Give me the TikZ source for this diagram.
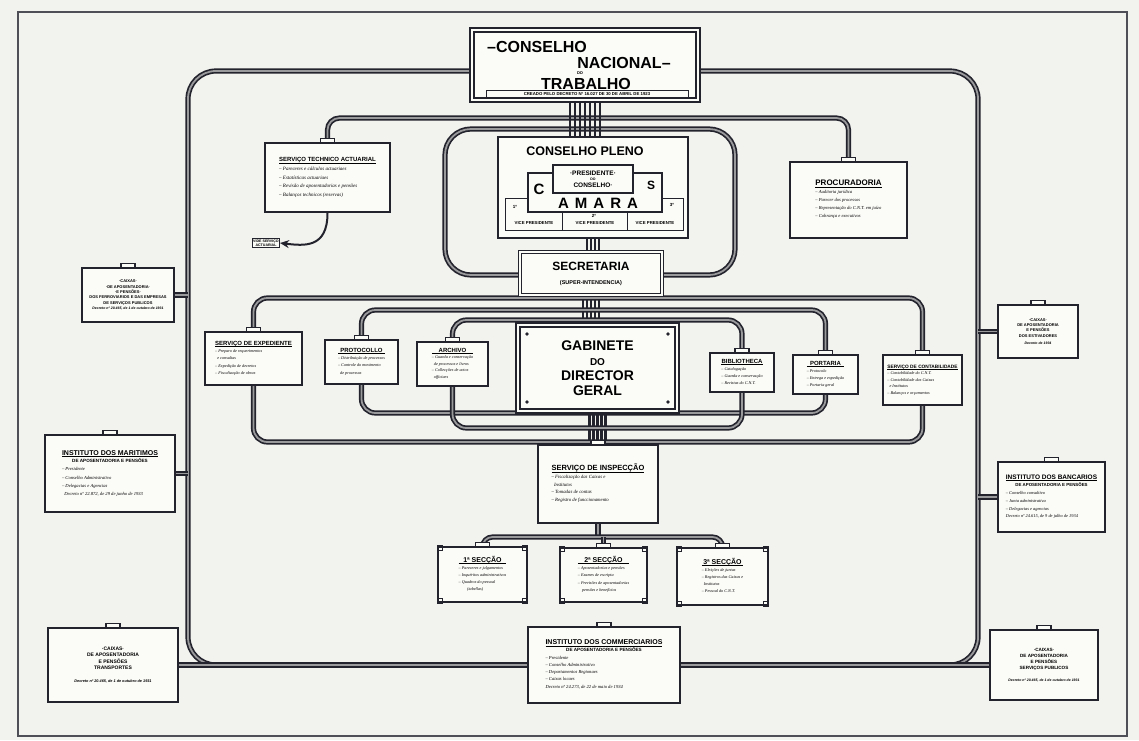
\documentclass[tikz,border=0pt]{standalone}
\usepackage{fontspec}
\setmainfont{Liberation Serif}
\setsansfont{Liberation Sans}
\usetikzlibrary{arrows.meta,calc}
\definecolor{ink}{HTML}{23232D}
\definecolor{paper}{HTML}{FBFBF8}
\definecolor{bgc}{HTML}{F2F2EF}
\pgfdeclarelayer{bgl}
\pgfdeclarelayer{back}
\pgfsetlayers{bgl,back,main}
\newcommand\Ti[1]{{\fontsize{6}{7}\selectfont\sffamily\bfseries\upshape #1}}
\newcommand\card[3][1.3]{{\renewcommand\arraystretch{#1}\begin{tabular}{@{}l@{}}\multicolumn{1}{@{}c@{}}{\Ti{#2}}\\[-1.5pt]\hline\noalign{\vskip 0.8pt}#3\end{tabular}}}
\newcommand\bx[7]{\node[#6,minimum width={#4-#2},minimum height={#5-#3}] (#1) at ({(#2+#4)/2},{(#3+#5)/2}) {#7};}
\newcommand\tabon[1]{\draw[tabst] ([xshift=-7pt]#1.north) rectangle ([xshift=7pt,yshift=4pt]#1.north);}
\tikzset{
  box/.style={draw=ink,line width=1.9pt,fill=paper,inner sep=1pt,align=center,font=\fontsize{4.2}{5.6}\selectfont\itshape},
  side/.style={draw=ink,line width=1.9pt,fill=paper,inner sep=1pt,align=center,font=\fontsize{4}{5.4}\selectfont\sffamily\bfseries},
  dframe/.style={draw=ink,line width=1.5pt,double=paper,double distance=1.6pt,fill=paper,align=center},
  bus/.style={draw=ink,line width=1.7pt,double=ink!45!paper,double distance=1.8pt},
  tabst/.style={draw=ink,line width=1.1pt,fill=paper},
  bundle/.style={draw=ink,line width=2.4pt},
  big/.style={font=\fontsize{15}{15}\selectfont\sffamily\bfseries,inner sep=0pt},
}
\begin{document}
\begin{tikzpicture}[x=1pt,y=-1pt]
\begin{pgfonlayer}{bgl}
\path[fill=bgc] (0,0) rectangle (1139,740);
\draw[ink!80,line width=1.4pt] (18,12) rectangle (1127,736);
\end{pgfonlayer}

% ---------- boxes ----------
\bx{cnt}{472}{30}{698}{100}{dframe,line width=1.8pt}{}
\node[big,font=\fontsize{16}{16}\selectfont\sffamily\bfseries] at (537,47) {–CONSELHO};
\node[big,font=\fontsize{16}{16}\selectfont\sffamily\bfseries] at (624,63) {NACIONAL–};
\node[font=\fontsize{4}{4}\selectfont\sffamily\bfseries,inner sep=0pt] at (580,73) {DO};
\node[big,font=\fontsize{16}{16}\selectfont\sffamily\bfseries] at (586,84) {TRABALHO};
\draw[ink,line width=0.8pt] (486,90) rectangle (688,98);
\node[font=\fontsize{4.3}{4.3}\selectfont\sffamily\bfseries,inner sep=0pt] at (587,94) {CREADO PELO DECRETO Nº 16.027 DE 30 DE ABRIL DE 1923};

\bx{pleno}{498}{137}{688}{238}{box,line width=2.4pt}{}
\node[font=\fontsize{12.5}{13}\selectfont\sffamily\bfseries,inner sep=0pt] at (585,151) {CONSELHO PLENO};
\draw[ink,line width=0.9pt] (505,198) rectangle (683,230);
\draw[ink,line width=0.9pt] (562,198) -- (562,230) (627,198) -- (627,230);
\draw[ink,line width=1.1pt,fill=paper] (528,173) rectangle (662,212);
\node[big] at (539,189) {C};
\node[big,font=\fontsize{12}{12}\selectfont\sffamily\bfseries] at (651,185) {S};
\node[big] at (598,203) {A\hspace{6pt}M\hspace{6pt}A\hspace{6pt}R\hspace{6pt}A};
\draw[ink,line width=1.1pt,fill=paper] (553,165) rectangle (633,193);
\node[align=center,font=\fontsize{6.5}{6.5}\selectfont\sffamily\bfseries,inner sep=0pt] at (593,179) {·PRESIDENTE·\\[-1pt]{\fontsize{3.5}{3.5}\selectfont DO}\\[0pt]CONSELHO·};
\foreach \xx/\yy/\t in {515/207/1º,594/216/2º,672/205/3º}
  \node[font=\fontsize{4.5}{4.5}\selectfont\sffamily\bfseries,inner sep=0pt] at (\xx,\yy) {\t};
\foreach \xx in {534,595,655}
  \node[font=\fontsize{4.3}{4.3}\selectfont\sffamily\bfseries,inner sep=0pt] at (\xx,223) {VICE PRESIDENTE};

\bx{sta}{265}{143}{390}{212}{box,font=\fontsize{5}{6}\selectfont\itshape}{\card[1.45]{SERVIÇO TECHNICO ACTUARIAL}{– Pareceres e cálculos actuariaes\\ – Estatísticas actuariaes\\ – Revisão de aposentadorias e pensões\\ – Balanços technicos (reservas)}}
\tabon{sta}
\node[draw=ink,line width=0.6pt,fill=paper,align=center,inner sep=1pt,font=\fontsize{3.6}{4}\selectfont\sffamily\bfseries] (vide) at (266,243) {VIDE SERVIÇO\\ACTUARIAL};

\bx{proc}{790}{162}{907}{238}{box,font=\fontsize{4.6}{6}\selectfont\itshape}{\card[1.35]{{\fontsize{8}{9}\selectfont PROCURADORIA}}{– Auditoria jurídica\\ – Parecer dos processos\\ – Representação do C.N.T. em juízo\\ – Cobrança e executivos}}
\tabon{proc}

\bx{sec}{520}{252}{662}{295}{dframe}{{\fontsize{12}{12}\selectfont\sffamily\bfseries SECRETARIA}\\[2pt]{\fontsize{5.5}{6}\selectfont\sffamily\bfseries (SUPER-INTENDENCIA)}}

\bx{gab}{518}{325}{677}{411}{dframe,line width=2.2pt,double distance=1.4pt,font=\fontsize{14}{15}\selectfont\sffamily\bfseries}{GABINETE\\{\fontsize{10}{11}\selectfont DO}\\DIRECTOR\\GERAL}
\foreach \xx/\yy in {527/334,668/334,527/402,668/402} \fill[ink] (\xx,\yy) circle (1.8);

\bx{exp}{205}{332}{302}{385}{box}{\card{SERVIÇO DE EXPEDIENTE}{– Preparo de requerimentos\\ \ \ e consultas\\ – Expedição de decretos\\ – Fiscalização de obras}}
\tabon{exp}
\bx{prot}{325}{340}{398}{384}{box}{\card{PROTOCOLLO}{– Distribuição de processos\\ – Controle do movimento\\ \ \ de processos}}
\tabon{prot}
\bx{arch}{417}{342}{488}{386}{box}{\card[1.15]{ARCHIVO}{– Guarda e conservação\\ \ \ de processos e livros\\ – Collecções de actos\\ \ \ officiaes}}
\tabon{arch}
\bx{bib}{710}{353}{774}{392}{box}{\card{BIBLIOTHECA}{– Catalogação\\ – Guarda e conservação\\ – Revistas do C.N.T.}}
\tabon{bib}
\bx{port}{793}{355}{858}{394}{box}{\card{PORTARIA}{– Protocolo\\ – Entrega e expedição\\ – Portaria geral}}
\tabon{port}
\bx{cont}{883}{355}{962}{405}{box}{\card[1.15]{{\fontsize{4.8}{5}\selectfont SERVIÇO DE CONTABILIDADE}}{– Contabilidade do C.N.T.\\ – Contabilidade das Caixas\\ \ \ e Institutos\\ – Balanços e orçamentos}}
\tabon{cont}

\bx{insp}{538}{445}{658}{523}{box,font=\fontsize{4.8}{6}\selectfont\itshape}{\card[1.3]{{\fontsize{7.5}{8}\selectfont SERVIÇO DE INSPECÇÃO}}{– Fiscalização das Caixas e\\ \ \ Institutos\\ – Tomadas de contas\\ – Registro de funccionamento}}
\tabon{insp}

\bx{s1}{438}{547}{527}{602}{box}{\card[1.3]{{\fontsize{7}{8}\selectfont 1ª SECÇÃO}}{– Pareceres e julgamentos\\ – Inquéritos administrativos\\ – Quadros do pessoal\\ \ \ \ \ \ \ \ \ (tabellas)}}
\bx{s2}{560}{548}{647}{602}{box}{\card[1.3]{{\fontsize{7}{8}\selectfont 2ª SECÇÃO}}{– Aposentadorias e pensões\\ – Exames de escripta\\ – Previsões de aposentadorias\\ \ \ \ \ pensões e benefícios}}
\bx{s3}{677}{548}{768}{605}{box}{\card[1.3]{{\fontsize{7}{8}\selectfont 3ª SECÇÃO}}{– Eleições de juntas\\ – Registros das Caixas e\\ \ \ Institutos\\ – Pessoal do C.N.T.}}
\foreach \n in {s1,s2,s3}{\tabon{\n}
  \foreach \a in {north west,north east,south west,south east}
    \draw[ink,line width=0.7pt] ($(\n.\a)!0.06!(\n.center)$) ++(-2.5,-2.5) rectangle ++(5,5);}

% side boxes
\bx{L1}{82}{268}{174}{322}{side}{·CAIXAS·\\ ·DE APOSENTADORIA·\\ ·E PENSÕES·\\ DOS FERROVIARIOS E DAS EMPRESAS\\ DE SERVIÇOS PUBLICOS\\ {\fontsize{3.5}{4}\selectfont\itshape Decreto nº 20.465, de 1 de outubro de 1931}}
\tabon{L1}
\bx{L2}{45}{435}{175}{512}{box,font=\fontsize{4.6}{6}\selectfont\itshape}{\card[1.35]{{\fontsize{7}{8}\selectfont INSTITUTO DOS MARITIMOS}}{\multicolumn{1}{@{}c@{}}{\sffamily\bfseries\upshape DE APOSENTADORIA E PENSÕES}\\ – Presidente\\ – Conselho Administrativo\\ – Delegacias e Agencias\\ \ \ Decreto nº 22.872, de 29 de junho de 1933}}
\tabon{L2}
\bx{L3}{48}{628}{178}{702}{side,font=\fontsize{5}{6.5}\selectfont\sffamily\bfseries}{·CAIXAS·\\ DE APOSENTADORIA\\ E PENSÕES\\ TRANSPORTES\\[6pt] {\fontsize{3.8}{4}\selectfont\itshape Decreto nº 20.465, de 1 de outubro de 1931}}
\tabon{L3}
\bx{R1}{998}{305}{1078}{358}{side}{·CAIXAS·\\ DE APOSENTADORIA\\ E PENSÕES\\ DOS ESTIVADORES\\[2pt] {\fontsize{3.5}{4}\selectfont\itshape Decreto de 1934}}
\tabon{R1}
\bx{R2}{998}{462}{1105}{532}{box,font=\fontsize{4.4}{6}\selectfont\itshape}{\card[1.3]{{\fontsize{6.5}{7}\selectfont INSTITUTO DOS BANCARIOS}}{\multicolumn{1}{@{}c@{}}{\sffamily\bfseries\upshape DE APOSENTADORIA E PENSÕES}\\ – Conselho consultivo\\ – Junta administrativa\\ – Delegacias e agencias\\ Decreto nº 24.615, de 9 de julho de 1934}}
\tabon{R2}
\bx{R3}{990}{630}{1098}{700}{side,font=\fontsize{4.6}{6}\selectfont\sffamily\bfseries}{·CAIXAS·\\ DE APOSENTADORIA\\ E PENSÕES\\ SERVIÇOS PUBLICOS\\[6pt] {\fontsize{3.5}{4}\selectfont\itshape Decreto nº 20.465, de 1 de outubro de 1931}}
\tabon{R3}
\bx{com}{528}{627}{680}{703}{box,font=\fontsize{4.6}{5.8}\selectfont\itshape}{\card[1.25]{{\fontsize{7}{8}\selectfont INSTITUTO DOS COMMERCIARIOS}}{\multicolumn{1}{@{}c@{}}{\sffamily\bfseries\upshape DE APOSENTADORIA E PENSÕES}\\ – Presidente\\ – Conselho Administrativo\\ – Departamentos Regionaes\\ – Caixas locaes\\ Decreto nº 24.273, de 22 de maio de 1934}}
\tabon{com}

% ---------- connectors ----------
\begin{pgfonlayer}{back}
\draw[bus,rounded corners=28] ([yshift=-6pt]cnt.west) -- (188,71) -- (188,665) -- (978,665) -- (978,71) -- ([yshift=-6pt]cnt.east);
\draw[bus] (L3.east) -- (R3.west);
\draw[bus,rounded corners=8] (L1.east) -- (188,295);
\draw[bus,rounded corners=8] (L2.east) -- (188,473.5);
\draw[bus,rounded corners=8] (R1.west) -- (978,331.5);
\draw[bus,rounded corners=8] (R2.west) -- (978,497);
\draw[bus,rounded corners=12] (sta.north) -- (sta.north |- 0,118) -- (proc.north |- 0,118) -- (proc.north);
\draw[bus,rounded corners=26] (590,129) -- (445,129) -- (445,275) -- (735,275) -- (735,129) -- cycle;
\foreach \d in {-15,-10,...,15} \draw[bundle] ([xshift=\d pt]cnt.south) -- ([xshift=\d pt]cnt.south |- pleno.north);
\foreach \d in {-6,-2,...,6} \draw[bundle,line width=2pt] ([xshift=\d pt]pleno.south) -- ([xshift=\d pt]pleno.south |- sec.north);
\foreach \d in {-8,-4,...,8} \draw[bundle,line width=2.2pt] ([xshift=\d pt]sec.south) -- ([xshift=\d pt]sec.south |- gab.north);
\foreach \d in {-8,-4,...,8} \draw[bundle,line width=2.2pt] ([xshift=\d pt]gab.south) -- ([xshift=\d pt]gab.south |- insp.north);
\draw[bus,rounded corners=14] (exp.north) -- (exp.north |- 0,298) -- (cont.north |- 0,298) -- (cont.north);
\draw[bus,rounded corners=14] (exp.south) -- (exp.south |- 0,442) -- (cont.south |- 0,442) -- (cont.south);
\draw[bus,rounded corners=14] (prot.north) -- (prot.north |- 0,310) -- (port.north |- 0,310) -- (port.north);
\draw[bus,rounded corners=14] (prot.south) -- (prot.south |- 0,413) -- (port.south |- 0,413) -- (port.south);
\draw[bus,rounded corners=14] (arch.north) -- (arch.north |- 0,320) -- (bib.north |- 0,320) -- (bib.north);
\draw[bus,rounded corners=14] (arch.south) -- (arch.south |- 0,428) -- (bib.south |- 0,428) -- (bib.south);
\draw[bus] (insp.south) -- (insp.south |- 0,537);
\draw[bus,rounded corners=10] (s1.north) -- (s1.north |- 0,537) -- (s3.north |- 0,537) -- (s3.north);
\draw[bus] (s2.north) -- (s2.north |- 0,537);
\end{pgfonlayer}
\draw[ink,line width=2pt,-{Stealth[length=9pt,width=8pt]}] (sta.south) .. controls (327.5,248) and (305,246) .. (vide.east);
\end{tikzpicture}
\end{document}
